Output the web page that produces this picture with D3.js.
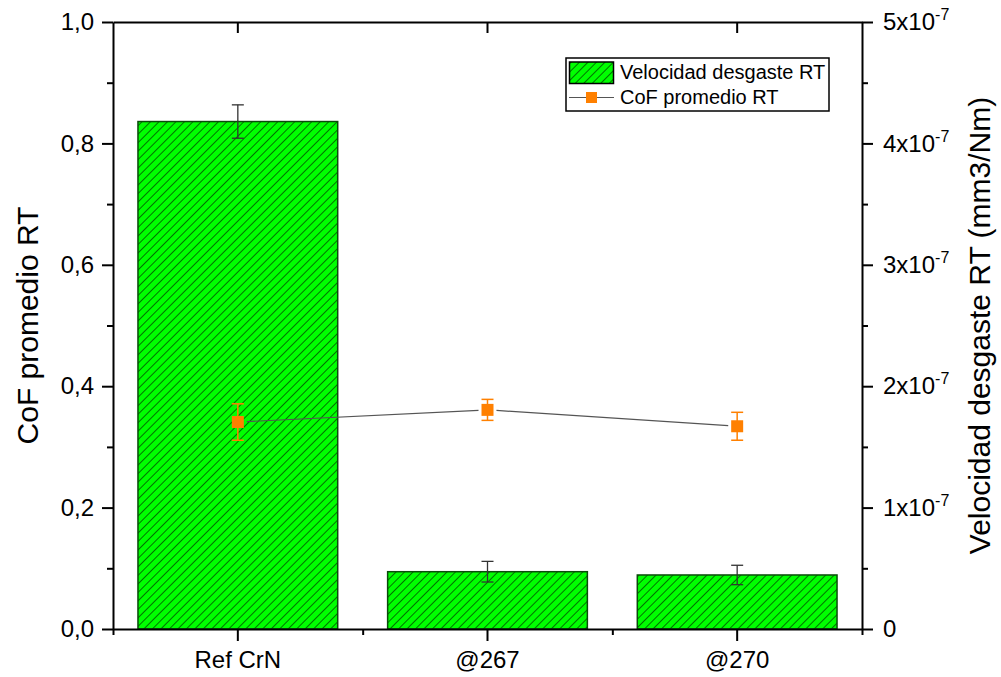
<!DOCTYPE html>
<html>
<head>
<meta charset="utf-8">
<script src="https://cdn.jsdelivr.net/npm/d3@7"></script>
<style>
  body { margin: 0; background: #fff; }
  svg text { font-family: "Liberation Sans", Arial, sans-serif; fill: #000; }
</style>
</head>
<body>
<svg id="chart"></svg>
<script>
// data
const categories = ["Ref CrN", "@267", "@270"];
const wearRate = [4.18e-7, 0.472e-7, 0.445e-7];
const wearErr = [0.1375e-7, 0.085e-7, 0.08e-7];
const cof = [0.341, 0.361, 0.334];
const cofErr = [0.030, 0.0173, 0.023];
const leftTicks = [0, 0.2, 0.4, 0.6, 0.8, 1.0];
const rightTicks = [0, 1e-7, 2e-7, 3e-7, 4e-7, 5e-7];

const width = 1001, height = 677;
const margin = { left: 113, right: 139, top: 22, bottom: 48 };

const svg = d3.select("#chart")
    .attr("width", width)
    .attr("height", height);

const x = d3.scaleBand()
    .domain(categories)
    .range([margin.left, width - margin.right])
    .paddingInner(0.2)
    .paddingOuter(0.1);

const yLeft = d3.scaleLinear().domain([0, 1]).range([height - margin.bottom, margin.top]);
const yRight = d3.scaleLinear().domain([0, 5e-7]).range([height - margin.bottom, margin.top]);

const x0 = margin.left, x1 = width - margin.right;
const yb = height - margin.bottom, yt = margin.top;
const cx = d => x(d) + x.bandwidth() / 2;

// hatch pattern for the bars
const defs = svg.append("defs");
const pat = defs.append("pattern")
    .attr("id", "hatch")
    .attr("patternUnits", "userSpaceOnUse")
    .attr("width", 6)
    .attr("height", 6)
    .attr("patternTransform", "rotate(45)");
pat.append("rect").attr("width", 6).attr("height", 6).attr("fill", "#00ff00");
pat.append("line")
    .attr("x1", 0).attr("y1", 0).attr("x2", 0).attr("y2", 6)
    .attr("stroke", "#000").attr("stroke-width", 1.1);

// bars (right axis)
svg.append("g").selectAll("rect")
    .data(categories)
    .join("rect")
    .attr("x", d => x(d))
    .attr("y", (d, i) => yRight(wearRate[i]))
    .attr("width", x.bandwidth())
    .attr("height", (d, i) => yb - yRight(wearRate[i]))
    .attr("fill", "url(#hatch)")
    .attr("stroke", "#0b4a0b")
    .attr("stroke-width", 1.5);

// bar error bars
const barErr = svg.append("g")
    .attr("stroke", "#333")
    .attr("stroke-width", 1.3);
categories.forEach((c, i) => {
    const top = yRight(wearRate[i] + wearErr[i]);
    const bot = yRight(wearRate[i] - wearErr[i]);
    barErr.append("line").attr("x1", cx(c)).attr("x2", cx(c)).attr("y1", top).attr("y2", bot);
    barErr.append("line").attr("x1", cx(c) - 6).attr("x2", cx(c) + 6).attr("y1", top).attr("y2", top);
    barErr.append("line").attr("x1", cx(c) - 6).attr("x2", cx(c) + 6).attr("y1", bot).attr("y2", bot);
});

// CoF line, with gaps around markers
const lineG = svg.append("g")
    .attr("stroke", "#555")
    .attr("stroke-width", 1.2);
for (let i = 0; i < categories.length - 1; i++) {
    const ax = cx(categories[i]), ay = yLeft(cof[i]);
    const bx = cx(categories[i + 1]), by = yLeft(cof[i + 1]);
    const len = Math.hypot(bx - ax, by - ay);
    const ux = (bx - ax) / len, uy = (by - ay) / len;
    const gap = 9;
    lineG.append("line")
        .attr("x1", ax + ux * gap).attr("y1", ay + uy * gap)
        .attr("x2", bx - ux * gap).attr("y2", by - uy * gap);
}

// CoF error bars + markers
const cofG = svg.append("g");
categories.forEach((c, i) => {
    const top = yLeft(cof[i] + cofErr[i]);
    const bot = yLeft(cof[i] - cofErr[i]);
    const g = cofG.append("g").attr("stroke", "#ff8000").attr("stroke-width", 1.5);
    g.append("line").attr("x1", cx(c)).attr("x2", cx(c)).attr("y1", top).attr("y2", bot);
    g.append("line").attr("x1", cx(c) - 6).attr("x2", cx(c) + 6).attr("y1", top).attr("y2", top);
    g.append("line").attr("x1", cx(c) - 6).attr("x2", cx(c) + 6).attr("y1", bot).attr("y2", bot);
    cofG.append("rect")
        .attr("x", cx(c) - 6).attr("y", yLeft(cof[i]) - 6)
        .attr("width", 12).attr("height", 12)
        .attr("fill", "#ff8000");
});

// axes
const axisStyle = g => {
    g.selectAll("path, line").attr("stroke", "#000").attr("stroke-width", 2);
    g.selectAll("text").style("font-size", "24px").attr("fill", "#000");
};

// left
svg.append("g")
    .attr("transform", `translate(${x0},0)`)
    .call(d3.axisLeft(yLeft).tickValues(d3.range(0.1, 1, 0.2)).tickSize(6).tickFormat(""))
    .call(g => g.select(".domain").remove())
    .call(axisStyle);
svg.append("g")
    .attr("transform", `translate(${x0},0)`)
    .call(d3.axisLeft(yLeft).tickValues(leftTicks).tickSize(11).tickSizeOuter(0).tickPadding(8)
        .tickFormat(d => d3.format(".1f")(d).replace(".", ",")))
    .call(axisStyle);

// right
svg.append("g")
    .attr("transform", `translate(${x1},0)`)
    .call(d3.axisRight(yRight).tickValues(d3.range(0.5e-7, 5e-7, 1e-7)).tickSize(6).tickFormat(""))
    .call(g => g.select(".domain").remove())
    .call(axisStyle);
const rightAxis = svg.append("g")
    .attr("transform", `translate(${x1},0)`)
    .call(d3.axisRight(yRight).tickValues(rightTicks).tickSize(11).tickSizeOuter(0).tickPadding(10).tickFormat(""))
    .call(axisStyle);
rightAxis.selectAll(".tick").append("text")
    .attr("x", 21)
    .attr("dy", "0.32em")
    .attr("text-anchor", "start")
    .style("font-size", "24px")
    .each(function(d) {
        const t = d3.select(this);
        if (d === 0) { t.text("0"); return; }
        const m = Math.round(d / 1e-7);
        t.append("tspan").text(m + "x10");
        t.append("tspan").attr("dy", -10).style("font-size", "16px").text("-7");
    });

// bottom
svg.append("g")
    .attr("transform", `translate(0,${yb})`)
    .call(d3.axisBottom(x).tickSize(12).tickSizeOuter(0).tickPadding(10))
    .call(axisStyle);
const minorX = d3.scaleLinear().domain([0, 3]).range([x0, x1]);
svg.append("g")
    .attr("transform", `translate(0,${yb})`)
    .call(d3.axisBottom(minorX).tickValues([0, 1, 2, 3]).tickSize(6).tickFormat(""))
    .call(g => g.select(".domain").remove())
    .call(axisStyle);

// top
svg.append("g")
    .attr("transform", `translate(0,${yt})`)
    .call(d3.axisBottom(x).tickSize(11).tickSizeOuter(0).tickFormat(""))
    .call(axisStyle);

// axis titles
svg.append("text")
    .attr("transform", `translate(38,${(yt + yb) / 2}) rotate(-90)`)
    .attr("text-anchor", "middle")
    .style("font-size", "30px")
    .text("CoF promedio RT");
svg.append("text")
    .attr("transform", `translate(990,${(yt + yb) / 2}) rotate(-90)`)
    .attr("text-anchor", "middle")
    .style("font-size", "30px")
    .text("Velocidad desgaste RT (mm3/Nm)");

// legend
const legend = svg.append("g").attr("transform", "translate(566,58)");
legend.append("rect")
    .attr("width", 263).attr("height", 53)
    .attr("fill", "#fff").attr("stroke", "#000").attr("stroke-width", 1.5);
legend.append("rect")
    .attr("x", 3.5).attr("y", 4).attr("width", 44).attr("height", 21.5)
    .attr("fill", "url(#hatch)").attr("stroke", "#000").attr("stroke-width", 1.5);
legend.append("text").attr("x", 54).attr("y", 21).style("font-size", "20px").text("Velocidad desgaste RT");
legend.append("line")
    .attr("x1", 3).attr("x2", 48).attr("y1", 39.5).attr("y2", 39.5)
    .attr("stroke", "#555").attr("stroke-width", 1.2);
legend.append("rect")
    .attr("x", 20).attr("y", 34).attr("width", 11).attr("height", 11)
    .attr("fill", "#ff8000");
legend.append("text").attr("x", 54).attr("y", 46).style("font-size", "20px").text("CoF promedio RT");
</script>
</body>
</html>
